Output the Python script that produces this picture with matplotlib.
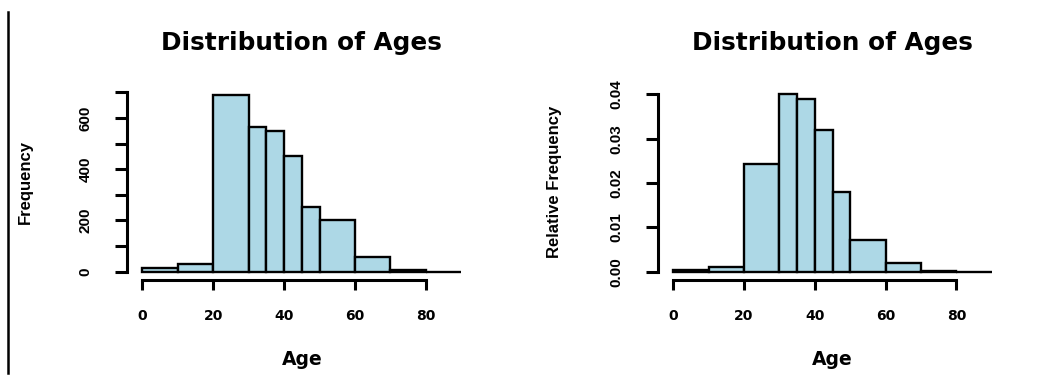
import numpy as np
import matplotlib
matplotlib.use("Agg")
import matplotlib.pyplot as plt
from matplotlib.lines import Line2D

# histogram breaks (ages) and values
breaks = [0, 10, 20, 30, 35, 40, 45, 50, 60, 70, 80, 90]
freq = [15, 30, 690, 565, 549, 452, 252, 203, 57, 6, 0]
rel_freq = [0.0004, 0.00105, 0.0244, 0.0400, 0.0389, 0.0320, 0.0180, 0.0072, 0.00195, 0.0002, 0.0]

freq_ticks = [0, 100, 200, 300, 400, 500, 600, 700]
freq_labels = ["0", "", "200", "", "400", "", "600", ""]
rel_ticks = [0.0, 0.01, 0.02, 0.03, 0.04]
rel_labels = ["0.00", "0.01", "0.02", "0.03", "0.04"]
x_ticks = [0, 20, 40, 60, 80]

fig = plt.figure(figsize=(10.53, 3.83), dpi=100)

# left / right panels in pixel-derived figure fractions
ax1 = fig.add_axes([0.1203, 0.2689, 0.3327, 0.505])
ax2 = fig.add_axes([0.6246, 0.2689, 0.3320, 0.505])

lw_axis = 2.2
bar_fill = "#add8e6"


def hist_panel(ax, heights, yticks, ylabels, ylim, ylabel, ylab_x):
    left = np.array(breaks[:-1])
    width = np.diff(breaks)
    ax.bar(left, heights, width=width, align="edge", color=bar_fill,
           edgecolor="black", linewidth=1.7, zorder=2)
    ax.set_xlim(-4.4, 94.4)
    ax.set_ylim(*ylim)

    for s in ["top", "right"]:
        ax.spines[s].set_visible(False)
    ax.spines["left"].set_linewidth(lw_axis)
    ax.spines["bottom"].set_linewidth(lw_axis)
    ax.spines["left"].set_bounds(yticks[0], yticks[-1])
    ax.spines["bottom"].set_bounds(x_ticks[0], x_ticks[-1])

    ax.set_xticks(x_ticks)
    ax.set_xticklabels([str(t) for t in x_ticks], fontfamily="DejaVu Sans",
                       fontweight="bold", fontsize=10)
    ax.set_yticks(yticks)
    ax.set_yticklabels(ylabels, rotation=90, va="center",
                       fontfamily="Liberation Sans", fontweight="bold", fontsize=11)
    ax.tick_params(axis="x", length=7.2, width=lw_axis, pad=14)
    ax.tick_params(axis="y", length=8.6, width=lw_axis, pad=16)

    ax.set_title("Distribution of Ages", fontfamily="DejaVu Sans",
                 fontweight="bold", fontsize=17.8, pad=26)
    ax.set_xlabel("Age", fontfamily="DejaVu Sans", fontweight="bold",
                  fontsize=13.5, va="top")
    ax.xaxis.set_label_coords(0.5, -0.362)
    ax.set_ylabel(ylabel, fontfamily="Liberation Sans", fontweight="bold",
                  fontsize=12, va="center")
    ax.yaxis.set_label_coords(ylab_x, 0.507)


hist_panel(ax1, freq, freq_ticks, freq_labels, (-32, 722), "Frequency", -0.29)
hist_panel(ax2, rel_freq, rel_ticks, rel_labels, (-0.00187, 0.04174),
           "Relative Frequency", -0.294)

# thin rule at the far left edge of the image
fig.add_artist(Line2D([0.0079, 0.0079], [1 - 12 / 383, 1 - 373 / 383],
                      color="black", linewidth=1.8))

fig.savefig("out.png", dpi=100)
